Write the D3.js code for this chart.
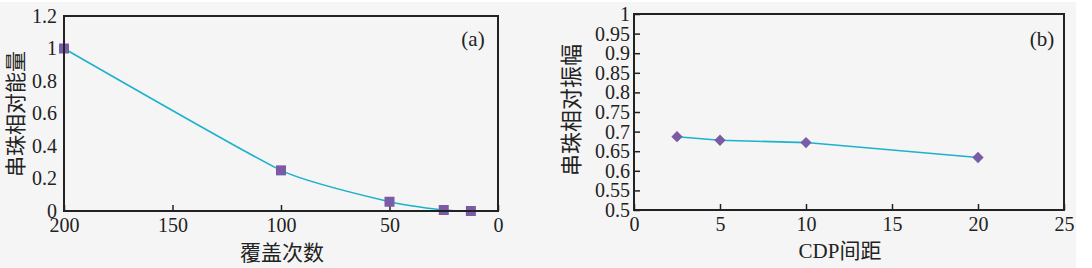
<!DOCTYPE html>
<html lang="zh">
<head>
  <meta charset="UTF-8">
  <title>串珠相对能量与振幅</title>
  <script src="https://d3js.org/d3.v7.min.js"></script>
  <style>
    body { margin: 0; background: #fff; }
    text { font-family: "Liberation Serif", "Noto Sans CJK SC", serif; fill: #222; }
    .cn { font-family: "Noto Sans CJK SC", "Liberation Serif", sans-serif; }
  </style>
</head>
<body>
  <div id="chart"></div>
  <script>

    // (a) data
    var coverage = [200, 100, 50, 25, 12.5];
    var energy = [1, 0.25, 0.057, 0.006, 0];
    var coverageTicks = [200, 150, 100, 50, 0];
    var energyTicks = [0, 0.2, 0.4, 0.6, 0.8, 1, 1.2];

    // (b) data
    var cdpSpacing = [2.5, 5, 10, 20];
    var amplitude = [0.687, 0.678, 0.672, 0.634];
    var spacingTicks = [0, 5, 10, 15, 20, 25];
    var amplitudeTicks = [0.5, 0.55, 0.6, 0.65, 0.7, 0.75, 0.8, 0.85, 0.9, 0.95, 1];

    var lineColor = "#1bb2cb",
      markColor = "#7a5ba5",
      frameColor = "#222";

    var svg = d3.select("#chart")
      .append("svg")
      .attr("width", 1092)
      .attr("height", 268);

    svg.append("rect")
      .attr("x", 0).attr("y", 2)
      .attr("width", 1076).attr("height", 266)
      .attr("fill", "#f5f5f5");

    // ---------- panel (a) ----------
    var ax = d3.scaleLinear().domain([200, 0]).range([64, 498]);
    var ay = d3.scaleLinear().domain([0, 1.2]).range([211, 16]);

    var gA = svg.append("g");

    gA.append("g")
      .attr("transform", "translate(0,211)")
      .call(d3.axisBottom(ax).tickValues(coverageTicks).tickFormat(d3.format("d"))
        .tickSizeInner(-6).tickSizeOuter(0).tickPadding(7))
      .call(function (g) { g.select(".domain").remove(); });

    gA.append("g")
      .attr("transform", "translate(64,0)")
      .call(d3.axisLeft(ay).tickValues(energyTicks).tickFormat(function (d) { return String(+d.toFixed(1)); })
        .tickSize(0).tickPadding(7))
      .call(function (g) { g.select(".domain").remove(); });

    gA.selectAll(".tick text").attr("font-size", 20).attr("fill", "#222")
      .style("font-family", "Liberation Serif");
    gA.selectAll(".tick line").attr("stroke", frameColor).attr("stroke-width", 1.5);

    var ptsA = coverage.map(function (c, i) { return [c, energy[i]]; });

    gA.append("path")
      .datum(ptsA)
      .attr("fill", "none")
      .attr("stroke", lineColor)
      .attr("stroke-width", 1.6)
      .attr("d", d3.line()
        .x(function (d) { return ax(d[0]); })
        .y(function (d) { return ay(d[1]); })
        .curve(d3.curveCardinal.tension(0.5)));

    gA.selectAll(".sq")
      .data(ptsA)
      .enter()
      .append("path")
      .attr("class", "sq")
      .attr("transform", function (d) { return "translate(" + ax(d[0]) + "," + ay(d[1]) + ")"; })
      .attr("d", d3.symbol().type(d3.symbolSquare).size(100))
      .attr("fill", markColor);

    gA.append("rect")
      .attr("x", 64).attr("y", 16)
      .attr("width", 434).attr("height", 195)
      .attr("fill", "none")
      .attr("stroke", frameColor)
      .attr("stroke-width", 2);

    gA.append("text")
      .attr("x", 473).attr("y", 46)
      .attr("text-anchor", "middle")
      .attr("font-size", 21)
      .text("(a)");

    gA.append("text")
      .attr("class", "cn")
      .attr("x", 282).attr("y", 251)
      .attr("text-anchor", "middle")
      .attr("dominant-baseline", "central")
      .attr("font-size", 21)
      .text("覆盖次数");

    gA.append("text")
      .attr("class", "cn")
      .attr("transform", "translate(14,114) rotate(-90)")
      .attr("text-anchor", "middle")
      .attr("dominant-baseline", "central")
      .attr("font-size", 21)
      .text("串珠相对能量");

    // ---------- panel (b) ----------
    var bx = d3.scaleLinear().domain([0, 25]).range([634, 1064]);
    var by = d3.scaleLinear().domain([0.5, 1]).range([210, 14]);

    var gB = svg.append("g");

    gB.append("g")
      .attr("transform", "translate(0,210)")
      .call(d3.axisBottom(bx).tickValues(spacingTicks).tickFormat(d3.format("d"))
        .tickSizeInner(-6).tickSizeOuter(0).tickPadding(7))
      .call(function (g) { g.select(".domain").remove(); });

    gB.append("g")
      .attr("transform", "translate(634,0)")
      .call(d3.axisLeft(by).tickValues(amplitudeTicks).tickFormat(function (d) { return String(+d.toFixed(2)); })
        .tickSizeInner(-6).tickSizeOuter(0).tickPadding(4))
      .call(function (g) { g.select(".domain").remove(); });

    gB.selectAll(".tick text").attr("font-size", 20).attr("fill", "#222")
      .style("font-family", "Liberation Serif");
    gB.selectAll(".tick line").attr("stroke", frameColor).attr("stroke-width", 1.5);

    var ptsB = cdpSpacing.map(function (c, i) { return [c, amplitude[i]]; });

    gB.append("path")
      .datum(ptsB)
      .attr("fill", "none")
      .attr("stroke", lineColor)
      .attr("stroke-width", 1.6)
      .attr("d", d3.line()
        .x(function (d) { return bx(d[0]); })
        .y(function (d) { return by(d[1]); }));

    gB.selectAll(".dm")
      .data(ptsB)
      .enter()
      .append("path")
      .attr("class", "dm")
      .attr("transform", function (d) { return "translate(" + bx(d[0]) + "," + by(d[1]) + ") rotate(45)"; })
      .attr("d", d3.symbol().type(d3.symbolSquare).size(64))
      .attr("fill", markColor);

    gB.append("rect")
      .attr("x", 634).attr("y", 14)
      .attr("width", 430).attr("height", 196)
      .attr("fill", "none")
      .attr("stroke", frameColor)
      .attr("stroke-width", 2);

    gB.append("text")
      .attr("x", 1042).attr("y", 46)
      .attr("text-anchor", "middle")
      .attr("font-size", 21)
      .text("(b)");

    gB.append("text")
      .attr("x", 840).attr("y", 251)
      .attr("text-anchor", "middle")
      .attr("dominant-baseline", "central")
      .attr("font-size", 21)
      .text("CDP间距");

    gB.append("text")
      .attr("class", "cn")
      .attr("transform", "translate(569,110) rotate(-90)")
      .attr("text-anchor", "middle")
      .attr("dominant-baseline", "central")
      .attr("font-size", 22)
      .text("串珠相对振幅");

  </script>
</body>
</html>
